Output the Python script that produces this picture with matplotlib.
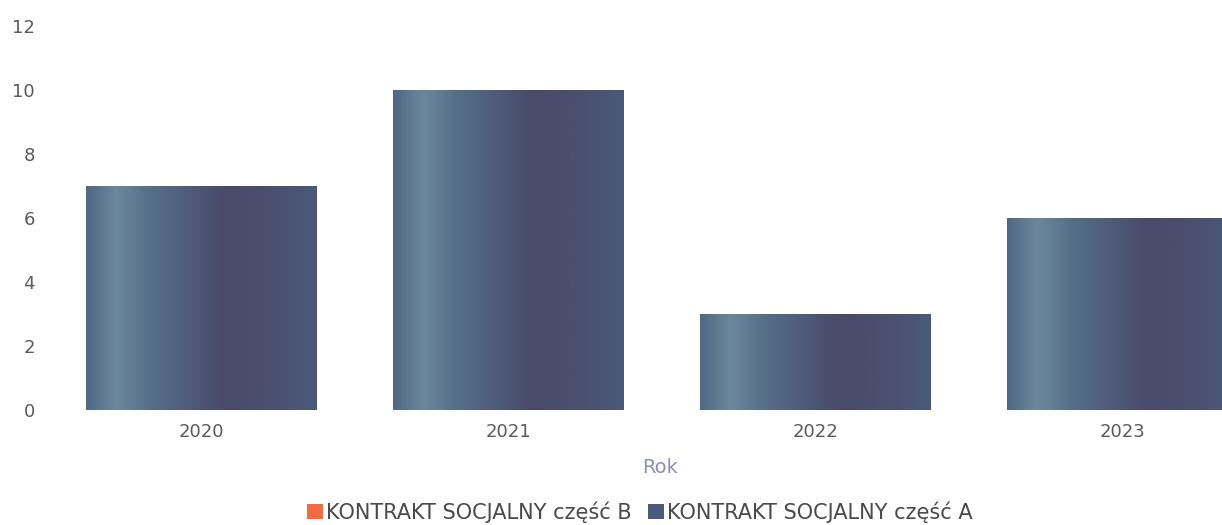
import numpy as np
import matplotlib
matplotlib.use("Agg")
import matplotlib.pyplot as plt
from matplotlib.colors import LinearSegmentedColormap
from matplotlib.patches import Patch

plt.rcParams['font.family'] = ['DejaVu Sans']

years = ["2020", "2021", "2022", "2023"]
part_b = [0, 0, 0, 0]
part_a = [7, 10, 3, 6]
series_names = ["KONTRAKT SOCJALNY część B", "KONTRAKT SOCJALNY część A"]
color_b = "#f26b43"
color_a = "#4a5a7c"

# horizontal gradient used on the bars
grad = LinearSegmentedColormap.from_list("bar", [
    (0.00, "#506884"),
    (0.13, "#6c889d"),
    (0.27, "#56708a"),
    (0.45, "#4e5b7a"),
    (0.60, "#4a4a6a"),
    (0.80, "#4a4f70"),
    (1.00, "#4b5a7a"),
])

fig = plt.figure(figsize=(12.22, 5.25), dpi=100)
ax = fig.add_axes([0.0389, 0.219, 1.005, 0.7314])

x = np.arange(len(years))
width = 0.75
bars_b = ax.bar(x, part_b, width, color=color_b)
bars_a = ax.bar(x, part_a, width, bottom=part_b, color=color_a)

g = np.linspace(0, 1, 256).reshape(1, -1)
for bar in bars_a:
    bx, by = bar.get_x(), bar.get_y()
    bw, bh = bar.get_width(), bar.get_height()
    im = ax.imshow(g, cmap=grad, aspect="auto", interpolation="bicubic",
                   extent=[bx, bx + bw, by, by + bh], zorder=2)
    im.set_clip_path(bar)

ax.set_xlim(-0.5, 3.5)
ax.set_ylim(0, 12)
ax.set_yticks(range(0, 13, 2))
ax.set_xticks(x)
ax.set_xticklabels(years)
for s in ax.spines.values():
    s.set_visible(False)
ax.tick_params(axis="both", length=0, labelsize=13, colors="#5a5a5a")
ax.tick_params(axis="y", pad=9)
ax.tick_params(axis="x", pad=9)
ax.set_xlabel("Rok", fontsize=14, color="#8d90b3")
ax.xaxis.set_label_coords((660 - 47.5) / (1222 * 1.005), -0.125)

handles = [Patch(facecolor=color_b), Patch(facecolor=color_a)]
fig.legend(handles, series_names, loc="center", bbox_to_anchor=(640 / 1222, 1 - 512 / 525),
           ncol=2, frameon=False, fontsize=15, handlelength=0.75, handleheight=0.75,
           handletextpad=0.15, columnspacing=0.8, labelcolor="#4a4a4a")

fig.savefig("out.png", dpi=100)
